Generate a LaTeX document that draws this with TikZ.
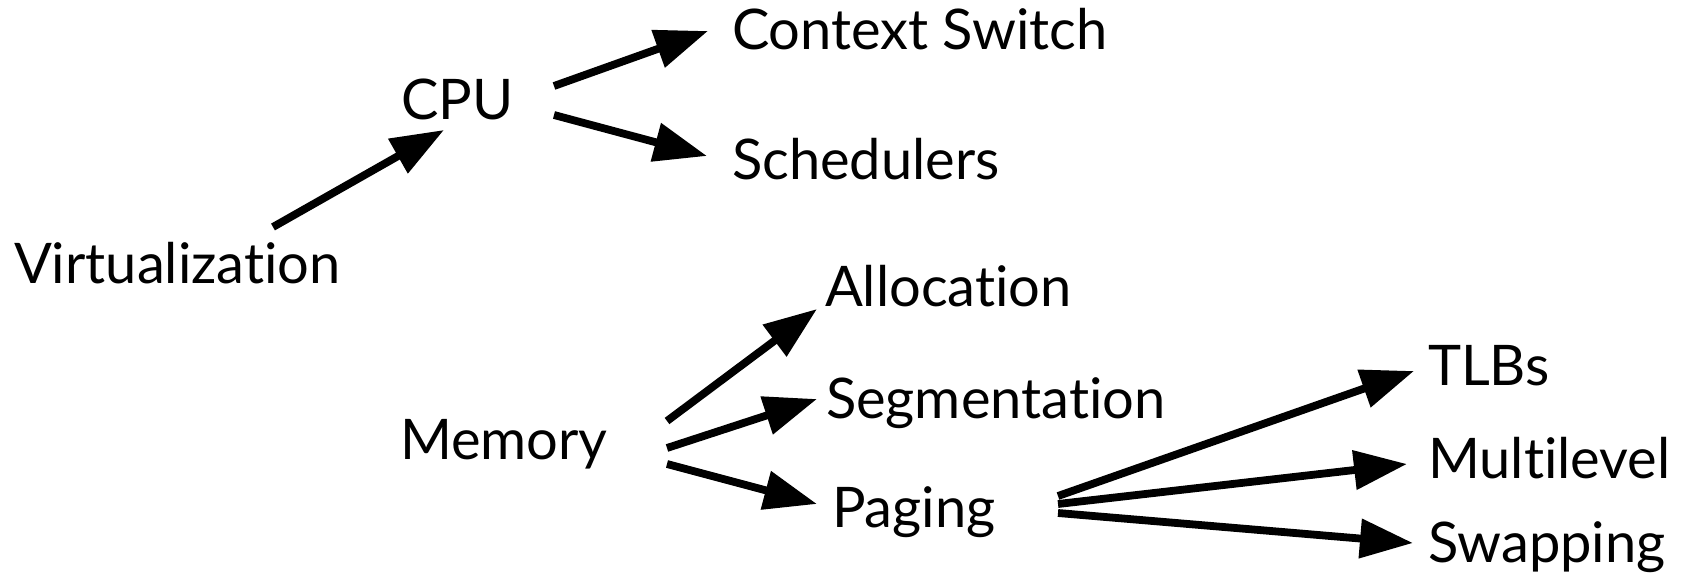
\documentclass[tikz,border=0pt]{standalone}
\usepackage{fontspec}
\setmainfont[Ligatures={NoCommon,NoContextual}]{Lato}
\usetikzlibrary{arrows.meta}
\begin{document}
\begin{tikzpicture}[x=1pt,y=-1pt,
  label/.style={anchor=base west,inner sep=0pt,outer sep=0pt,font=\fontsize{56}{60}\selectfont},
  link/.style={line width=7.8pt,-{Triangle[length=53pt,width=38pt]}}]
\useasboundingbox (0,0) rectangle (1681,577);
% topic labels
\node[label] (virt)   at (14,284)  {Virtualization};
\node[label] (cpu)    at (401,120) {CPU};
\node[label] (ctx)    at (732,50)  {Context Switch};
\node[label] (sched)  at (732,180) {Schedulers};
\node[label] (alloc)  at (825,307) {Allocation};
\node[label] (seg)    at (826,418) {Segmentation};
\node[label] (mem)    at (400,459) {Memory};
\node[label] (paging) at (832,527) {Paging};
\node[label] (tlb)    at (1428,385) {TLBs};
\node[label] (multi)  at (1428,478) {Multilevel};
\node[label] (swap)   at (1428,562) {Swapping};
% connectors
\draw[link] ([shift={(259,-57)}]virt.base west) -- ([shift={(43,10)}]cpu.base west);
\draw[link] ([shift={(153,-34)}]cpu.base west) -- ([shift={(-24,-19)}]ctx.base west);
\draw[link] ([shift={(153,-5)}]cpu.base west) -- ([shift={(-25,-24)}]sched.base west);
\draw[link] ([shift={(267,-38)}]mem.base west) -- ([shift={(-8,2)}]alloc.base west);
\draw[link] ([shift={(267,-11)}]mem.base west) -- ([shift={(-9,-19)}]seg.base west);
\draw[link] ([shift={(267,5)}]mem.base west) -- ([shift={(-15,-23)}]paging.base west);
\draw[link] ([shift={(226,-31)}]paging.base west) -- ([shift={(-14,-14)}]tlb.base west);
\draw[link] ([shift={(226,-23)}]paging.base west) -- ([shift={(-21,-14)}]multi.base west);
\draw[link] ([shift={(226,-14)}]paging.base west) -- ([shift={(-15,-19)}]swap.base west);
\end{tikzpicture}
\end{document}
